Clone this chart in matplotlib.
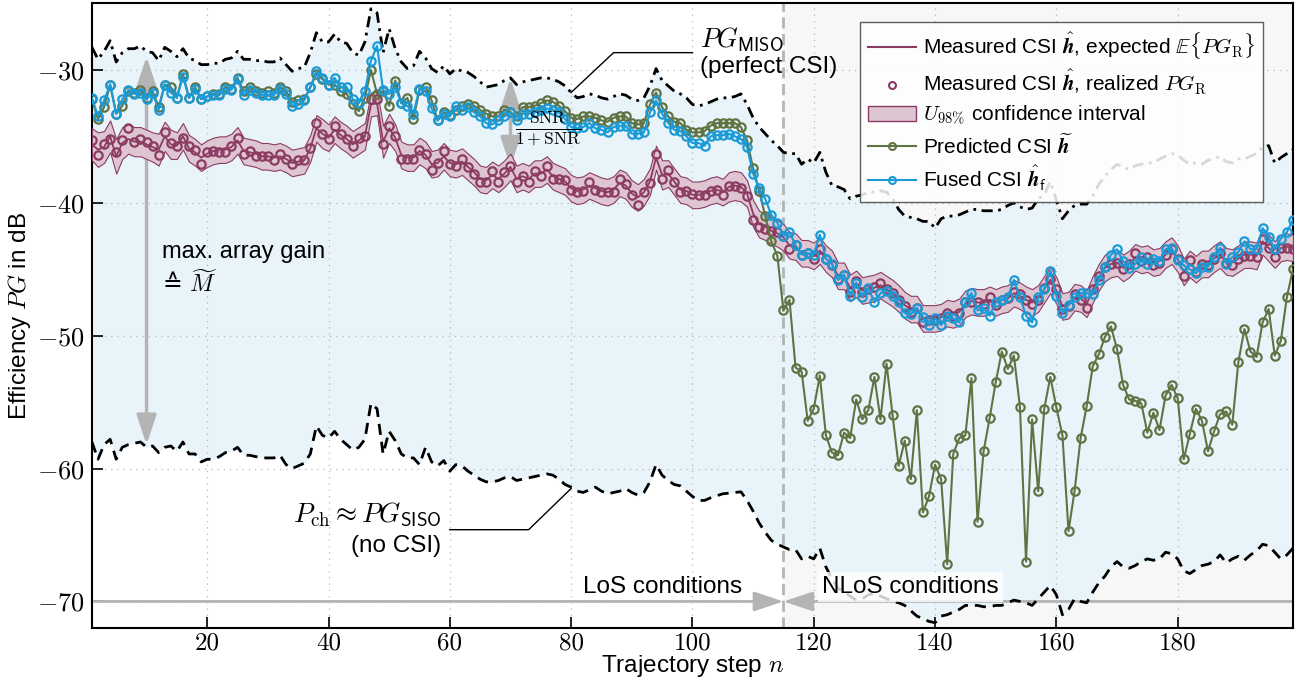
import numpy as np
import matplotlib.pyplot as plt
from matplotlib.lines import Line2D
from matplotlib.patches import Patch

plt.rcParams['font.family'] = ['Liberation Sans', 'DejaVu Sans']
plt.rcParams['mathtext.fontset'] = 'cm'

# trajectory steps 1..199
steps = np.arange(1, 200)

# PG_MISO (perfect CSI), dash-dot upper bound
pg_miso = [
    -28.3, -29.2, -28.6, -27.8, -29.4, -28.7, -28.4, -28.4, -28.2, -28.6, -28.7, -29.3, -28.3, -28.6, -29.0, -28.4, -29.1, -29.3, -29.6, -29.6, -29.5, -29.5, -29.2, -29.1, -28.6, -29.2, -29.2, -29.3, -29.3, -29.4, -29.4, -29.1, -29.6, -30.1, -29.9,
    -29.8, -28.7, -27.2, -27.9, -27.9, -27.3, -27.9, -28.0, -28.7, -28.9, -27.9, -25.4, -25.7, -28.7, -26.9, -28.4, -29.4, -29.9, -29.7, -28.6, -29.1, -29.9, -30.2, -29.7, -30.3, -29.9, -30.1, -30.2, -30.5, -30.9, -31.3, -31.2,
    -31.1, -30.8, -30.6, -31.1, -30.9, -30.8, -30.7, -30.6, -30.6, -30.7, -30.9, -31.2, -31.7, -32.1, -32.0, -31.8, -31.9, -32.1, -32.2, -32.0, -31.8, -31.9, -32.2, -32.3, -32.1, -31.2, -29.9, -30.8, -31.2, -31.6, -31.8, -32.1, -32.6,
    -32.7, -32.6, -32.4, -32.2, -32.1, -32.1, -32.0, -31.8, -32.6, -33.6, -34.3, -34.8, -35.3, -35.7, -36.2, -36.3, -36.3, -37.1, -36.7, -37.0, -36.2, -37.7, -38.7, -38.8, -39.0, -39.7, -39.5, -39.4, -39.2, -39.2, -39.1, -39.2, -39.7, -40.5,
    -41.0, -41.1, -41.2, -41.4, -41.4, -41.9, -41.2, -41.0, -41.0, -40.9, -40.7, -40.5, -40.5, -40.6, -40.6, -40.6, -40.5, -40.2, -40.0, -40.3, -40.5, -40.4, -39.7, -39.4, -38.4, -39.8, -41.2, -40.6, -40.2, -40.1, -40.1,
    -39.5, -38.6, -38.0, -37.5, -37.1, -37.3, -37.5, -37.2, -37.1, -37.0, -37.0, -36.7, -36.5, -36.3, -36.4, -36.8, -37.1, -37.0, -37.1, -36.8, -36.7, -36.5, -36.9, -37.0, -36.7, -36.7, -36.5, -36.3, -35.8, -35.7, -37.0, -36.6, -36.3, -36.0,
]

# P_ch ~ PG_SISO (no CSI), dashed lower bound
p_ch = [
    -58.0, -59.3, -58.2, -57.8, -59.3, -58.4, -58.2, -58.1, -58.0, -58.4, -58.3, -58.8, -58.4, -58.3, -58.7, -58.0, -58.9, -58.9, -59.5, -59.3, -59.3, -59.1, -58.8, -58.7, -58.4, -59.0, -59.0, -59.1, -59.2, -59.2, -59.2, -59.0, -59.7, -60.0, -59.8,
    -59.6, -58.9, -56.8, -57.5, -57.7, -57.2, -57.8, -58.2, -58.6, -58.4, -57.8, -55.1, -55.5, -58.9, -57.2, -57.9, -58.9, -59.2, -59.2, -59.7, -58.4, -59.5, -59.8, -59.4, -60.2, -59.7, -59.8, -60.2, -60.5, -60.8, -61.0, -61.0,
    -60.9, -60.7, -60.6, -60.9, -60.8, -60.7, -60.6, -60.5, -60.4, -60.5, -60.8, -61.2, -61.4, -61.7, -61.8, -61.6, -61.4, -61.7, -61.9, -61.8, -61.7, -61.5, -61.8, -62.0, -61.8, -61.0, -59.7, -60.5, -60.9, -61.2, -61.3, -61.7, -62.1,
    -62.4, -62.4, -62.2, -62.05, -61.9, -61.85, -61.8, -61.75, -62.4, -63.2, -64.1, -64.8, -65.4, -65.7, -65.9, -66.1, -66.1, -66.8, -66.6, -66.8, -66.0, -67.4, -68.3, -69.0, -69.3, -69.6, -69.9, -69.8, -69.5, -69.4, -69.6, -69.8, -70.0, -70.1,
    -70.3, -70.7, -71.1, -71.3, -71.5, -71.6, -71.1, -71.0, -70.8, -70.6, -70.3, -70.3, -70.3, -70.4, -70.4, -70.3, -70.3, -70.1, -69.9, -70.0, -70.1, -70.3, -69.8, -69.3, -68.8, -69.5, -71.0, -70.6, -69.8, -70.0, -70.1,
    -69.3, -68.6, -68.1, -67.4, -67.0, -67.4, -67.5, -67.3, -67.0, -66.8, -66.9, -66.8, -66.3, -66.4, -66.8, -67.7, -67.9, -67.6, -67.3, -67.2, -67.0, -66.5, -67.1, -66.8, -66.6, -66.9, -66.5, -66.2, -65.7, -65.8, -66.3, -66.8, -66.5, -66.0,
]

# measured CSI, realized PG_R (circles)
meas_real = [
    -35.3, -36.4, -35.6, -35.2, -36.2, -35.3, -34.4, -35.4, -35.2, -35.4, -35.7, -36.4, -34.7, -35.5, -35.7, -35.1, -35.7, -36.0, -37.1, -36.2, -36.1, -36.2, -36.2, -35.7, -35.1, -36.3, -36.1, -36.5, -36.5, -36.5, -36.8, -36.3, -36.7, -37.1, -36.8,
    -36.8, -35.9, -34.0, -34.8, -35.2, -34.2, -34.8, -35.2, -35.7, -35.1, -35.0, -32.2, -32.2, -35.6, -34.2, -35.0, -36.7, -36.7, -36.7, -36.0, -36.3, -37.5, -37.0, -36.1, -37.1, -37.2, -36.7, -37.3, -37.8, -38.4, -38.4, -37.6,
    -38.4, -37.7, -37.2, -38.4, -38.0, -38.4, -37.6, -38.0, -37.2, -38.2, -38.2, -38.3, -39.0, -39.2, -39.1, -38.4, -39.0, -39.2, -39.2, -39.2, -38.2, -38.6, -39.4, -40.2, -39.2, -38.5, -36.3, -38.2, -37.5, -38.4, -39.2, -39.1, -39.3,
    -39.4, -39.4, -39.1, -39.0, -39.4, -38.7, -38.7, -38.9, -39.5, -41.3, -41.8, -42.0, -42.1, -42.2, -42.5, -43.5, -43.2, -43.9, -43.8, -44.2, -43.5, -44.2, -44.7, -45.7, -45.4, -46.7, -45.9, -46.7, -46.5, -46.3, -46.0, -46.5, -46.8, -47.3,
    -47.8, -48.2, -47.9, -49.0, -48.8, -48.8, -48.7, -48.3, -48.5, -48.3, -47.5, -47.5, -47.5, -47.6, -47.1, -47.7, -47.3, -47.2, -46.7, -46.9, -47.3, -47.6, -47.3, -46.4, -45.7, -46.5, -48.0, -47.8, -46.9, -47.3, -47.9,
    -46.5, -45.5, -44.8, -44.6, -44.5, -45.0, -44.6, -43.8, -44.4, -44.1, -44.7, -44.5, -43.9, -43.5, -44.2, -45.5, -44.3, -45.2, -44.6, -44.7, -44.2, -43.8, -44.5, -44.7, -44.2, -44.0, -44.0, -44.1, -42.7, -43.4, -44.1, -43.4, -43.4, -43.5,
]

# measured CSI, expected E{PG_R} (line)
meas_exp = [
    -35.6, -36.0, -35.8, -35.0, -36.5, -35.5, -35.2, -35.4, -35.4, -35.6, -35.8, -36.0, -35.0, -35.6, -35.7, -35.0, -35.9, -36.2, -36.6, -36.3, -36.1, -36.0, -36.0, -35.8, -35.3, -36.1, -36.2, -36.3, -36.5, -36.5, -36.6, -36.5, -36.7, -37.0, -36.9,
    -36.8, -35.9, -34.4, -34.8, -35.1, -34.5, -34.9, -35.2, -35.6, -35.3, -35.0, -32.6, -32.5, -35.4, -34.4, -35.1, -36.4, -36.6, -36.6, -36.1, -36.4, -37.1, -37.0, -36.5, -37.0, -37.1, -36.9, -37.3, -37.7, -38.2, -38.3, -37.9,
    -38.2, -37.8, -37.3, -38.2, -38.0, -38.2, -37.8, -37.8, -37.5, -38.0, -38.2, -38.4, -38.9, -39.1, -39.0, -38.7, -38.9, -39.1, -39.2, -39.0, -38.5, -38.7, -39.3, -39.6, -39.2, -38.4, -36.6, -37.9, -37.8, -38.4, -39.0, -39.1, -39.4,
    -39.4, -39.3, -39.1, -39.0, -39.2, -38.8, -38.7, -38.8, -39.3, -40.8, -41.6, -41.8, -42.1, -42.3, -42.6, -43.2, -43.3, -43.8, -43.8, -44.0, -43.6, -44.2, -44.6, -45.5, -45.5, -46.4, -46.1, -46.6, -46.5, -46.4, -46.2, -46.5, -46.8, -47.2,
    -47.7, -48.0, -48.0, -48.7, -48.7, -48.7, -48.6, -48.3, -48.4, -48.2, -47.6, -47.4, -47.5, -47.5, -47.3, -47.5, -47.3, -47.2, -46.8, -47.0, -47.3, -47.5, -47.2, -46.5, -45.8, -46.6, -47.8, -47.7, -47.1, -47.2, -47.6,
    -46.5, -45.6, -44.9, -44.6, -44.5, -44.9, -44.6, -44.1, -44.3, -44.2, -44.5, -44.4, -43.9, -43.6, -44.2, -45.2, -44.6, -45.0, -44.6, -44.6, -44.2, -43.9, -44.4, -44.5, -44.2, -43.9, -43.9, -44.0, -42.9, -43.4, -43.9, -43.4, -43.3, -43.4,
]

# half width of the U98% confidence band
band_hw = [
    1.2, 1.3, 1.2, 1.2, 1.3, 1.2, 1.1, 1.1, 1.1, 1.1,
    1.1, 1.2, 1.1, 1.1, 1.0, 1.0, 1.0, 1.0, 1.0, 1.0,
    1.0, 1.0, 1.0, 1.0, 1.0, 1.0, 1.0, 1.0, 1.0, 1.0,
    1.0, 1.0, 1.0, 1.0, 1.0, 1.0, 1.0, 1.0, 1.1, 1.0,
    1.0, 1.0, 1.0, 1.0, 1.0, 1.0, 0.9, 0.9, 1.2, 1.1,
    1.0, 1.0, 1.0, 1.0, 1.0, 1.0, 1.0, 1.0, 1.0, 1.0,
    1.0, 1.0, 1.0, 1.0, 1.0, 1.0, 1.0, 1.0, 1.0, 1.0,
    1.0, 1.0, 1.0, 1.0, 1.0, 1.0, 1.0, 1.0, 1.0, 1.0,
    1.0, 1.0, 1.0, 1.0, 1.0, 1.0, 1.0, 1.0, 1.0, 1.0,
    1.0, 1.0, 1.0, 0.9, 1.1, 1.0, 1.0, 1.0, 1.0, 1.0,
    1.0, 1.0, 1.0, 1.0, 1.0, 1.1, 1.1, 1.1, 1.0, 1.0,
    1.0, 1.0, 1.0, 1.0, 1.0, 1.0, 1.0, 1.0, 1.0, 1.0,
    1.0, 1.0, 1.0, 1.0, 1.0, 1.0, 1.0, 1.0, 1.0, 1.0,
    1.0, 1.0, 1.0, 1.0, 1.0, 1.0, 1.0, 1.0, 1.0, 1.0,
    1.0, 1.0, 1.0, 1.0, 1.0, 1.0, 1.0, 1.0, 1.0, 1.0,
    1.0, 1.0, 1.0, 1.0, 1.0, 1.0, 1.0, 1.0, 1.0, 1.0,
    1.0, 1.0, 1.0, 1.0, 1.0, 1.0, 1.0, 1.0, 1.0, 1.0,
    1.0, 1.0, 1.0, 1.0, 1.0, 1.0, 1.0, 1.0, 1.0, 1.0,
    1.0, 1.0, 1.0, 1.0, 1.0, 1.0, 1.0, 1.0, 1.0, 1.0,
    1.0, 1.0, 1.0, 1.0, 1.0, 1.0, 1.0, 1.0, 1.0,
]

# predicted CSI
pred = [
    -32.2, -33.7, -32.8, -31.1, -33.3, -32.7, -31.6, -31.7, -31.5, -32.1, -31.6, -32.8, -31.1, -31.3, -32.1, -30.3, -32.1, -31.3, -32.2, -32.0, -31.8, -31.8, -31.3, -31.4, -30.6, -31.6, -31.3, -31.6, -31.7, -31.6, -31.7, -31.3, -31.6, -32.4, -32.3,
    -32.2, -31.3, -30.3, -30.7, -31.1, -31.1, -31.6, -31.8, -32.6, -33.1, -32.1, -30.0, -31.8, -31.6, -32.7, -30.8, -32.5, -32.1, -33.7, -31.5, -31.3, -32.3, -33.8, -33.2, -33.4, -33.0, -32.7, -32.6, -32.7, -33.0, -33.3, -33.5,
    -33.5, -33.0, -33.2, -33.5, -32.8, -32.8, -32.7, -32.5, -32.3, -32.4, -32.7, -33.1, -33.6, -33.7, -33.5, -33.5, -33.6, -33.8, -33.9, -33.6, -33.5, -33.5, -34.0, -34.1, -34.0, -32.6, -31.7, -32.8, -33.5, -33.9, -34.0, -34.5, -34.7,
    -34.7, -34.6, -34.2, -34.0, -34.0, -34.0, -34.0, -34.3, -35.3, -37.4, -39.1, -41.0, -42.9, -44.0, -48.1, -47.3, -52.4, -52.7, -56.4, -55.5, -53.0, -57.5, -58.8, -59.0, -57.3, -57.7, -54.8, -56.3, -55.6, -53.1, -56.3, -52.1, -56.0, -59.8,
    -57.9, -60.8, -55.6, -63.3, -62.1, -59.7, -60.8, -67.2, -58.9, -57.7, -57.5, -53.2, -64.0, -58.7, -56.2, -53.5, -51.2, -52.5, -51.5, -55.4, -67.0, -56.3, -61.7, -55.5, -53.1, -55.4, -57.5, -64.7, -61.7, -57.7, -55.3,
    -52.3, -51.4, -50.1, -49.3, -51.0, -53.7, -54.8, -54.9, -55.1, -57.3, -55.8, -57.1, -54.5, -53.7, -54.7, -59.3, -57.4, -55.5, -56.4, -58.7, -57.2, -55.9, -55.7, -56.7, -52.0, -49.5, -51.2, -51.6, -49.0, -48.0, -51.5, -50.4, -47.1, -45.0,
]

# fused CSI
fused = [
    -32.1, -33.5, -32.3, -31.1, -33.3, -32.2, -31.5, -31.8, -31.7, -32.2, -31.7, -33.0, -31.1, -31.7, -32.1, -30.5, -32.1, -31.4, -32.2, -32.0, -31.9, -31.9, -31.4, -31.5, -30.7, -31.9, -31.5, -31.7, -31.9, -31.9, -31.9, -31.4, -31.8, -32.7, -32.6,
    -32.3, -31.3, -30.1, -30.6, -31.1, -30.6, -31.3, -31.3, -32.2, -32.5, -31.6, -29.3, -28.2, -31.5, -31.8, -31.3, -32.5, -32.7, -33.3, -31.4, -31.6, -32.9, -33.8, -33.3, -33.5, -32.7, -33.0, -32.8, -33.2, -33.5, -34.0, -34.1,
    -33.8, -33.5, -33.2, -33.8, -33.3, -33.3, -33.2, -33.0, -32.9, -33.0, -33.2, -33.7, -34.3, -34.4, -34.3, -34.0, -34.4, -34.5, -34.7, -34.3, -34.2, -34.2, -34.8, -34.8, -34.7, -33.2, -32.3, -33.3, -34.0, -34.5, -34.6, -35.0, -35.5,
    -35.5, -35.7, -35.0, -34.9, -34.9, -34.8, -35.0, -35.2, -35.8, -37.8, -38.9, -39.7, -40.9, -41.5, -42.5, -42.2, -43.2, -43.9, -43.8, -43.9, -42.4, -44.2, -44.6, -45.8, -45.4, -47.0, -46.0, -47.1, -46.4, -47.5, -46.8, -46.6, -47.0, -47.5,
    -48.3, -48.4, -47.9, -48.6, -49.2, -48.7, -49.2, -48.5, -48.7, -49.0, -47.5, -46.8, -48.1, -47.9, -48.5, -47.5, -47.3, -47.1, -45.8, -47.1, -48.5, -49.0, -47.1, -46.5, -45.1, -47.0, -48.3, -47.7, -47.1, -46.8, -46.8,
    -46.9, -45.8, -44.8, -43.9, -43.5, -44.4, -44.9, -44.6, -44.1, -44.6, -44.2, -44.4, -43.5, -43.4, -44.3, -44.7, -45.0, -45.3, -44.8, -44.8, -44.1, -43.4, -44.6, -44.1, -43.7, -42.9, -43.5, -43.5, -41.9, -42.6, -43.5, -42.7, -42.2, -41.3,
]

x_ticks = [20, 40, 60, 80, 100, 120, 140, 160, 180]
y_ticks = [-70, -60, -50, -40, -30]

maroon = '#8c3b62'
band_col = '#ddc5d1'
green = '#5f7343'
blue = '#1a9ad6'
light_blue = '#e8f4fa'
gray = '#b4b4b4'

exp_arr = np.array(meas_exp)
hw_arr = np.array(band_hw)

fig = plt.figure(figsize=(12.95, 6.83), dpi=100)
ax = fig.add_axes([0.071, 0.0805, 0.9274, 0.9144])

ax.axvspan(115, 199, color='#f7f7f7', lw=0, zorder=0.1)
ax.fill_between(steps, p_ch, pg_miso, color=light_blue, lw=0, zorder=0.3)
ax.set_axisbelow(True)
ax.grid(True, ls=(0, (1, 4)), color='#b8b8b8', lw=0.9)

ax.axvline(115, color=gray, lw=2, ls=(0, (4, 2)), zorder=1)

ax.plot(steps, pg_miso, color='k', lw=2, ls=(0, (4, 2, 1, 2)), zorder=3)
ax.plot(steps, p_ch, color='k', lw=2, ls=(0, (4, 2.5)), zorder=3)

ax.fill_between(steps, exp_arr - hw_arr, exp_arr + hw_arr, facecolor=band_col,
                edgecolor=maroon, lw=0.8, zorder=4)
ax.plot(steps, meas_exp, color=maroon, lw=1.3, zorder=5)
ax.plot(steps, meas_real, ls='none', marker='o', mfc='none', mec=maroon, ms=6, mew=1.6, zorder=6)
ax.plot(steps, pred, color=green, lw=1.5, marker='o', mfc='none', mec=green, ms=6, mew=1.6, zorder=7)
ax.plot(steps, fused, color=blue, lw=1.5, marker='o', mfc='none', mec=blue, ms=6, mew=1.6, zorder=8)

# annotations
arr = dict(arrowstyle='<|-|>,head_length=0.9,head_width=0.3', color=gray, lw=2.5,
           mutation_scale=20, shrinkA=0, shrinkB=0)
ax.annotate('', xy=(10, -29.0), xytext=(10, -58.2), arrowprops=arr, zorder=2)
ax.annotate('', xy=(70, -30.65), xytext=(70, -37.3), arrowprops=arr, zorder=2)
ax.text(12.6, -43.7, 'max. array gain', fontsize=17, va='center', ha='left')
ax.text(12.6, -46.1, '≙ $\\widetilde{M}$', fontsize=17, va='center', ha='left',
        family=['DejaVu Sans'])
ax.text(76.2, -34.5, r'$\frac{\mathrm{SNR}}{1+\mathrm{SNR}}$', fontsize=18, ha='center', va='center', zorder=9)

ax.plot([80, 87, 100], [-31.7, -28.7, -28.7], color='k', lw=1, zorder=9)
ax.text(101.3, -27.7, r'$PG_{\mathsf{MISO}}$', fontsize=19, ha='left', va='center')
ax.text(101.3, -29.8, '(perfect CSI)', fontsize=17.5, ha='left', va='center')

ax.plot([60, 73, 80], [-64.6, -64.6, -61.5], color='k', lw=1, zorder=9)
ax.text(58.6, -63.45, r'$P_{\mathrm{ch}} \approx PG_{\mathsf{SISO}}$', fontsize=19.5, ha='right', va='center')
ax.text(58.6, -65.8, '(no CSI)', fontsize=17.5, ha='right', va='center')

harr = dict(arrowstyle='-|>,head_length=0.9,head_width=0.3', color=gray, lw=2,
            mutation_scale=20, shrinkA=0, shrinkB=0)
ax.annotate('', xy=(115, -70), xytext=(1, -70), arrowprops=harr, zorder=2)
ax.annotate('', xy=(115, -70), xytext=(199, -70), arrowprops=harr, zorder=2)
ax.text(95, -68.9, 'LoS conditions', fontsize=17.5, ha='center', va='center', zorder=9)
ax.text(136, -68.9, 'NLoS conditions', fontsize=17.5, ha='center', va='center', zorder=9,
        bbox=dict(facecolor='white', edgecolor='none', alpha=0.8, pad=3))

ax.set_xlim(1, 199)
ax.set_ylim(-72, -25)
ax.set_xticks(x_ticks)
ax.set_xticklabels([str(t) for t in x_ticks], fontsize=18, family='cmr10')
ax.set_yticks(y_ticks)
ax.set_yticklabels(['$%d$' % t for t in y_ticks], fontsize=19)
ax.tick_params(direction='in', length=8, width=1.2, pad=5)
ax.tick_params(axis='x', pad=3)
for s in ax.spines.values():
    s.set_linewidth(1.5)

ax.set_xlabel('Trajectory step $n$', fontsize=17.5, labelpad=-1)
ax.set_ylabel('Efficiency $PG$ in dB', fontsize=17.5, labelpad=3)

handles = [
    Line2D([], [], color=maroon, lw=1.5),
    Line2D([], [], ls='none', marker='o', mfc='none', mec=maroon, ms=5, mew=1.5),
    Patch(facecolor=band_col, edgecolor=maroon, lw=1),
    Line2D([], [], color=green, lw=1.5, marker='o', mfc='none', mec=green, ms=5, mew=1.5),
    Line2D([], [], color=blue, lw=1.5, marker='o', mfc='none', mec=blue, ms=5, mew=1.5),
]
labels = [
    r'Measured CSI $\hat{\boldsymbol{h}}$, expected $\mathbb{E}\{PG_{\mathrm{R}}\}$',
    r'Measured CSI $\hat{\boldsymbol{h}}$, realized $PG_{\mathrm{R}}$',
    r'$U_{98\%}$ confidence interval',
    r'Predicted CSI $\widetilde{\boldsymbol{h}}$',
    r'Fused CSI $\hat{\boldsymbol{h}}_{\mathsf{f}}$',
]
leg = ax.legend(handles, labels, loc='upper right', bbox_to_anchor=(0.975, 0.97),
                borderaxespad=0, fontsize=15, handlelength=2.3, handletextpad=0.3,
                labelspacing=0.3, numpoints=1, fancybox=False, framealpha=0.85,
                edgecolor='#444444')
leg.get_frame().set_linewidth(1.0)
leg.set_zorder(20)

fig.savefig('out.png', dpi=100)
